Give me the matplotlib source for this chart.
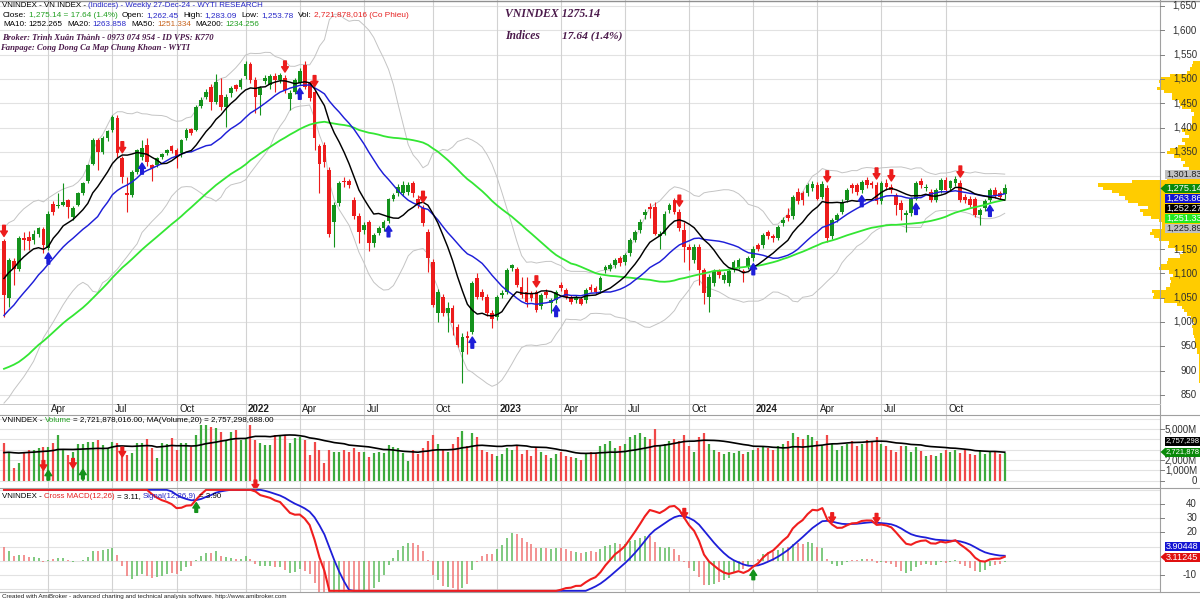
"""Weekly VN-Index chart, AmiBroker style (WYTI Research layout)."""

import matplotlib

matplotlib.use("Agg")
import matplotlib.pyplot as plt
import numpy as np
import pandas as pd
from matplotlib.lines import Line2D
from matplotlib.patches import Polygon, Rectangle

W, H = 1200, 601

# ---- weekly bars, 29-Jan-21 .. 27-Dec-24 ----
OPEN = [
    1166, 1049, 1126, 1110, 1172, 1175, 1168, 1182, 1192, 1152,
    1242, 1238, 1240, 1251, 1216, 1241, 1265, 1289, 1326, 1374,
    1350, 1378, 1395, 1420, 1337, 1266, 1261, 1309, 1340, 1364,
    1323, 1323, 1340, 1347, 1361, 1354, 1347, 1378, 1396, 1395,
    1445, 1463, 1484, 1453, 1467, 1443, 1470, 1487, 1484, 1506,
    1530, 1498, 1467, 1496, 1488, 1506, 1498, 1501, 1458, 1474,
    1491, 1529, 1491, 1474, 1361, 1364, 1313, 1206, 1244, 1291,
    1289, 1251, 1219, 1189, 1206, 1162, 1184, 1193, 1208, 1252,
    1265, 1265, 1268, 1285, 1254, 1234, 1186, 1124, 1018, 1052,
    1018, 1028, 990, 939, 972, 980, 1090, 1062, 1052, 1018,
    1011, 1056, 1062, 1112, 1110, 1073, 1062, 1059, 1062, 1032,
    1062, 1040, 1045, 1076, 1066, 1052, 1045, 1047, 1045, 1073,
    1069, 1066, 1106, 1110, 1117, 1131, 1124, 1141, 1169, 1189,
    1220, 1236, 1237, 1176, 1182, 1230, 1251, 1227, 1189, 1155,
    1128, 1155, 1107, 1052, 1080, 1104, 1086, 1080, 1107, 1114,
    1104, 1114, 1131, 1158, 1158, 1186, 1176, 1172, 1203, 1220,
    1217, 1268, 1265, 1265, 1276, 1282, 1258, 1275, 1176, 1210,
    1227, 1251, 1282, 1282, 1272, 1292, 1285, 1282, 1248, 1285,
    1278, 1261, 1244, 1220, 1224, 1254, 1289, 1275, 1268, 1251,
    1272, 1292, 1275, 1285, 1285, 1258, 1254, 1254, 1220, 1234,
    1251, 1272, 1265, 1262.45,
]
HIGH = [
    1170, 1132, 1132, 1176, 1186, 1188, 1190, 1196, 1196, 1228,
    1248, 1265, 1285, 1254, 1238, 1268, 1288, 1326, 1378, 1378,
    1382, 1395, 1425, 1425, 1342, 1299, 1312, 1356, 1374, 1378,
    1326, 1340, 1348, 1356, 1364, 1357, 1377, 1398, 1400, 1447,
    1462, 1480, 1490, 1511, 1501, 1468, 1486, 1490, 1502, 1536,
    1535, 1503, 1485, 1508, 1510, 1512, 1512, 1508, 1478, 1502,
    1522, 1537, 1496, 1478, 1366, 1370, 1318, 1246, 1290, 1299,
    1294, 1258, 1224, 1205, 1210, 1184, 1198, 1210, 1256, 1266,
    1284, 1290, 1287, 1289, 1262, 1240, 1192, 1130, 1068, 1058,
    1042, 1034, 995, 978, 982, 1085, 1100, 1068, 1058, 1024,
    1056, 1066, 1112, 1120, 1114, 1093, 1093, 1064, 1066, 1060,
    1068, 1050, 1066, 1082, 1070, 1056, 1056, 1051, 1070, 1078,
    1074, 1094, 1118, 1122, 1132, 1136, 1142, 1173, 1190, 1211,
    1232, 1245, 1246, 1188, 1228, 1245, 1256, 1232, 1206, 1160,
    1160, 1160, 1112, 1098, 1108, 1110, 1102, 1108, 1128, 1132,
    1110, 1135, 1156, 1163, 1183, 1190, 1180, 1200, 1215, 1234,
    1262, 1275, 1270, 1286, 1290, 1288, 1290, 1282, 1214, 1225,
    1252, 1276, 1285, 1286, 1293, 1298, 1290, 1288, 1290, 1295,
    1284, 1266, 1250, 1230, 1258, 1290, 1296, 1284, 1274, 1276,
    1297, 1298, 1293, 1300, 1292, 1264, 1260, 1258, 1235, 1252,
    1276, 1278, 1270, 1283.09,
]
LOW = [
    1011, 1031, 1076, 1105, 1148, 1148, 1160, 1175, 1141, 1148,
    1220, 1234, 1238, 1213, 1210, 1238, 1262, 1286, 1322, 1312,
    1345, 1372, 1390, 1340, 1285, 1227, 1258, 1305, 1333, 1320,
    1289, 1318, 1335, 1343, 1348, 1316, 1340, 1374, 1384, 1392,
    1440, 1458, 1436, 1448, 1436, 1402, 1462, 1475, 1480, 1500,
    1492, 1429, 1426, 1490, 1480, 1474, 1492, 1470, 1437, 1468,
    1487, 1480, 1455, 1354, 1265, 1318, 1175, 1155, 1238, 1278,
    1276, 1212, 1162, 1182, 1145, 1155, 1178, 1188, 1204, 1248,
    1260, 1260, 1262, 1258, 1235, 1198, 1103, 1030, 1001, 1012,
    980, 973, 948, 874, 935, 975, 1048, 1045, 1012, 987,
    1005, 1050, 1058, 1105, 1072, 1050, 1031, 1044, 1020, 1026,
    1050, 1018, 1040, 1064, 1047, 1038, 1040, 1034, 1040, 1062,
    1058, 1060, 1100, 1104, 1112, 1116, 1118, 1136, 1164, 1184,
    1212, 1213, 1178, 1151, 1178, 1224, 1222, 1188, 1124, 1107,
    1122, 1076, 1038, 1021, 1075, 1090, 1080, 1074, 1102, 1108,
    1083, 1108, 1126, 1146, 1153, 1170, 1165, 1168, 1198, 1208,
    1212, 1242, 1240, 1260, 1270, 1250, 1252, 1165, 1170, 1205,
    1222, 1246, 1265, 1262, 1266, 1276, 1276, 1242, 1243, 1272,
    1266, 1220, 1210, 1186, 1218, 1250, 1276, 1270, 1246, 1246,
    1266, 1266, 1270, 1280, 1246, 1245, 1236, 1215, 1200, 1228,
    1246, 1256, 1252, 1253.78,
]
CLOSE = [
    1055, 1127, 1108, 1172, 1169, 1166, 1182, 1193, 1158, 1223,
    1226, 1241, 1247, 1237, 1234, 1265, 1285, 1323, 1374, 1350,
    1378, 1392, 1422, 1347, 1299, 1262, 1309, 1354, 1357, 1330,
    1316, 1337, 1345, 1354, 1351, 1337, 1374, 1395, 1389, 1443,
    1457, 1474, 1453, 1494, 1443, 1463, 1481, 1480, 1498, 1530,
    1498, 1463, 1481, 1501, 1505, 1498, 1508, 1477, 1472, 1498,
    1517, 1484, 1460, 1378, 1326, 1330, 1182, 1241, 1285, 1287,
    1282, 1217, 1186, 1200, 1162, 1179, 1193, 1206, 1252, 1261,
    1278, 1282, 1282, 1265, 1241, 1203, 1131, 1035, 1062, 1018,
    1028, 997, 953, 970, 968, 1080, 1052, 1052, 1018, 1007,
    1052, 1059, 1107, 1117, 1076, 1056, 1042, 1049, 1025, 1055,
    1055, 1045, 1062, 1069, 1052, 1042, 1052, 1038, 1066, 1066,
    1062, 1090, 1114, 1117, 1127, 1121, 1138, 1169, 1186, 1206,
    1227, 1233, 1182, 1182, 1223, 1241, 1227, 1193, 1155, 1148,
    1155, 1107, 1059, 1093, 1104, 1097, 1097, 1104, 1124, 1127,
    1100, 1131, 1151, 1151, 1179, 1176, 1172, 1196, 1210, 1213,
    1258, 1248, 1250, 1282, 1284, 1254, 1283, 1172, 1210, 1220,
    1247, 1271, 1275, 1268, 1288, 1282, 1282, 1248, 1285, 1278,
    1271, 1241, 1230, 1224, 1254, 1285, 1282, 1278, 1251, 1271,
    1292, 1272, 1289, 1295, 1251, 1251, 1241, 1220, 1230, 1248,
    1271, 1262, 1258, 1275.14,
]
# weekly volume, millions of shares
VOLUME = [
    3680, 2800, 1220, 1700, 2700, 2970, 2970, 3130, 3290, 3290,
    3620, 4420, 2970, 2480, 2800, 3520, 3520, 3780, 3780, 3940,
    3460, 3130, 3780, 3620, 2800, 2480, 2640, 3620, 3620, 4010,
    3130, 2150, 3620, 3520, 4100, 2970, 3620, 3620, 3290, 4420,
    5390, 5390, 5230, 5070, 4740, 3940, 4740, 4900, 3940, 4100,
    5390, 3940, 3620, 3460, 3460, 4420, 4420, 4420, 3620, 4100,
    4260, 3940, 2480, 3780, 2970, 1700, 2970, 2800, 2800, 2970,
    2800, 3130, 2800, 2800, 2320, 2640, 2800, 2640, 3460, 3290,
    3130, 2640, 1860, 2970, 2600, 3200, 3800, 4400, 3600, 3000,
    2800, 3600, 4200, 4800, 3400, 4600, 4200, 3000, 2800, 2600,
    2400, 2600, 3200, 3000, 3400, 2600, 3000, 2400, 3200, 2800,
    2500, 2200, 2600, 2800, 2400, 2300, 2200, 2000, 2600, 2800,
    2700, 3400, 3600, 3800, 3200, 3400, 3600, 4200, 4400, 4600,
    4200, 4000, 5000, 3400, 3600, 3800, 4000, 3800, 4400, 3400,
    2800, 4200, 4600, 3600, 3000, 2800, 2600, 2800, 2700, 2900,
    2600, 2800, 3000, 3200, 3300, 3200, 3000, 3400, 3600, 3800,
    4600, 4200, 4000, 4400, 4200, 3800, 3400, 4400, 3600, 3000,
    3400, 3600, 3800, 3400, 3600, 3900, 3700, 4200, 3600, 3400,
    3000, 2800, 3400, 3400, 2800, 3300, 2900, 2400, 2500, 2400,
    2700, 3000, 2800, 3000, 2700, 3000, 2600, 2500, 3000, 2600,
    2800, 2800, 2600, 2721.878,
]
# 2020 weekly closes / volumes before the first bar (only feed the indicators)
PRE_CLOSE = [
    933, 938, 927, 881, 893, 794, 751, 691, 720, 762, 777, 759, 769,
    793, 825, 858, 864, 880, 863, 869, 853, 857, 863, 842, 835, 785,
    830, 848, 869, 880, 883, 893, 907, 905, 909, 928, 935, 942, 925,
    948, 981, 996, 1003, 1017, 1046, 1067, 1079, 1104, 1168, 1190, 1166,
]
PRE_VOLUME = [
    2100, 2200, 2300, 2000, 2400, 2500, 2300, 2600, 2700, 2500,
    2400, 2800, 2600, 2900, 3000, 3200, 3400, 3500, 3300,
]

QUARTER_BARS = [9, 22, 35, 49, 60, 73, 87, 100, 113, 126, 139, 152, 165, 178, 191]
QUARTER_LABELS = ["Apr", "Jul", "Oct", "2022", "Apr", "Jul", "Oct", "2023",
                  "Apr", "Jul", "Oct", "2024", "Apr", "Jul", "Oct"]

SELL_BARS = [0, 24, 57, 63, 85, 108, 137, 167, 177, 180, 194]
BUY_BARS = [9, 28, 60, 78, 95, 112, 152, 174, 185, 200]
VOL_SELL = [(8, 1000), (14, 1200), (24, 2300)]
VOL_BUY = [(9, 1000), (16, 1100)]
MACD_SELL = [(51, 50), (138, 30), (168, 27), (177, 26.5)]
MACD_BUY = [(39, 41), (152, -6.5)]

SANS = "Liberation Sans"
SERIF = "Liberation Serif"
GREEN = "#14921C"
RED = "#EC1C1C"
BLUE = "#1E1ED8"
LIME = "#33E633"
GRID = "#E2E2E2"
VGRID = "#D2D2D2"
YELLOW = "#FFCC00"
PURPLE = "#4B1A4B"

O, Hh, L, C = (np.array(a, dtype=float) for a in (OPEN, HIGH, LOW, CLOSE))
V = np.array(VOLUME, dtype=float)
n = len(C)
idx = np.arange(n)
up = C >= O
bar_colors = np.where(up, GREEN, RED)

closes = pd.Series(np.r_[PRE_CLOSE, C])
npre = len(PRE_CLOSE)
ma10 = closes.rolling(10).mean().to_numpy()[npre:]
ma20 = closes.rolling(20).mean().to_numpy()[npre:]
ma50 = closes.rolling(50).mean().to_numpy()[npre:]
sd20 = closes.rolling(20).std(ddof=0).to_numpy()[npre:]
bb_up, bb_dn = ma20 + 2 * sd20, ma20 - 2 * sd20
ema12 = closes.ewm(span=12, adjust=False).mean()
ema26 = closes.ewm(span=26, adjust=False).mean()
macd_all = ema12 - ema26
signal_all = macd_all.ewm(span=9, adjust=False).mean()
macd = macd_all.to_numpy()[npre:]
signal = signal_all.to_numpy()[npre:]
hist = macd - signal
vols = pd.Series(np.r_[PRE_VOLUME, V])
vol_ma = vols.rolling(20).mean().to_numpy()[len(PRE_VOLUME):]

XMIN, XMAX = -0.81, 234.5

fig = plt.figure(figsize=(W / 100, H / 100), dpi=100)
fig.patch.set_facecolor("white")


def px_axes(x0, y0, x1, y1):
    ax = fig.add_axes([x0 / W, 1 - y1 / H, (x1 - x0) / W, (y1 - y0) / H])
    ax.set_axis_off()
    ax.set_xlim(XMIN, XMAX)
    return ax


def img_y(ax, v):
    return H - ax.transData.transform((0, v))[1]


def img_x(ax, i):
    return ax.transData.transform((i, 0))[0]


def fig_line(x0, y0, x1, y1, color="#A8A8A8", lw=0.8):
    fig.add_artist(Line2D([x0 / W, x1 / W], [1 - y0 / H, 1 - y1 / H],
                          transform=fig.transFigure, color=color, lw=lw, zorder=5))


def sig_arrow(ax, x, y, down, color, length=8):
    ax.annotate("", xy=(x, y), xytext=(0, length if down else -length),
                textcoords="offset points", xycoords="data", annotation_clip=False,
                arrowprops=dict(arrowstyle="simple,head_length=0.55,head_width=0.7,tail_width=0.28",
                                color=color, shrinkA=0, shrinkB=0, mutation_scale=7),
                zorder=6)


# ---- price pane ----
ax = px_axes(0, 0, 1160, 415)
ax.set_ylim(808.7, 1662.3)
for lvl in range(850, 1651, 50):
    ax.axhline(lvl, color=GRID, lw=0.8, zorder=0)
for b in QUARTER_BARS:
    ax.axvline(b, color=VGRID, lw=0.8, zorder=0)
ax.plot(idx, bb_up, color="#C4C4C4", lw=0.7, zorder=1)
ax.plot(idx, bb_dn, color="#C4C4C4", lw=0.7, zorder=1)
ax.vlines(idx, L, Hh, colors=bar_colors, lw=0.8, zorder=2)
ax.bar(idx, np.maximum(np.abs(C - O), 1.8), bottom=np.minimum(O, C), width=0.76,
       color=bar_colors, linewidth=0, zorder=2)
ax.plot(idx, ma50, color=LIME, lw=1.3, zorder=3)
ax.plot(idx, ma20, color=BLUE, lw=1.05, zorder=3)
ax.plot(idx, ma10, color="black", lw=1.05, zorder=3)
for b in SELL_BARS:
    sig_arrow(ax, b, Hh[b] + 6, True, RED)
for b in BUY_BARS:
    sig_arrow(ax, b, L[b] - 6, False, BLUE)

# ---- volume pane ----
axv = px_axes(0, 415, 1160, 488)
axv.set_ylim(-718, 6369)
for lvl in range(0, 6001, 1000):
    axv.axhline(lvl, color=GRID, lw=0.8, zorder=0)
for b in QUARTER_BARS:
    axv.axvline(b, color=VGRID, lw=0.8, zorder=0)
vol_colors = np.where(up, "#3CAA3C", "#F04848")
axv.vlines(idx, 0, V, colors=vol_colors, lw=1.6, zorder=2)
axv.plot(idx, vol_ma, color="black", lw=1.2, zorder=3)
for b, v in VOL_SELL:
    sig_arrow(axv, b, v, True, RED, length=7)
for b, v in VOL_BUY:
    sig_arrow(axv, b, v, False, GREEN, length=7)

# ---- MACD pane ----
axm = px_axes(0, 488, 1160, 592)
axm.set_ylim(-22.0, 51.3)
for lvl in range(-20, 51, 10):
    axm.axhline(lvl, color=GRID, lw=0.8, zorder=0)
for b in QUARTER_BARS:
    axm.axvline(b, color=VGRID, lw=0.8, zorder=0)
hist_colors = np.where(up, "#5DBB5D", "#F07474")
axm.vlines(idx, 0, hist, colors=hist_colors, lw=1.1, zorder=2)
axm.plot(idx, np.clip(signal, -21.2, 50), color=BLUE, lw=1.3, zorder=3)
axm.plot(idx, np.clip(macd, -21.2, 50), color="#F01E1E", lw=1.5, zorder=4)
for b, v in MACD_SELL:
    sig_arrow(axm, b, v, True, RED, length=7)
for b, v in MACD_BUY:
    sig_arrow(axm, b, v, False, GREEN, length=7)

# ---- price volume distribution on the right ----
axp = fig.add_axes([1080 / W, 1 - 415 / H, 120 / W, 415 / H])
axp.set_axis_off()
axp.set_ylim(808.7, 1662.3)
axp.set_xlim(120, 0)
lo, hi = L.min(), Hh.max()
edges = np.linspace(lo, hi, 101)
overlap = np.clip(np.minimum(Hh[:, None], edges[1:]) - np.maximum(L[:, None], edges[:-1]), 0, None)
profile = (overlap / (Hh - L)[:, None] * V[:, None]).sum(axis=0)
axp.barh((edges[:-1] + edges[1:]) / 2, profile / profile.max() * 102,
         height=edges[1] - edges[0], left=0, color=YELLOW, linewidth=0)

# ---- frame lines ----
fig_line(0, 0.5, 1200, 0.5, "#909090", 1.0)
fig_line(1160, 0, 1160, 592, "#A0A0A0", 0.8)
fig_line(0, 404, 1160, 404, "#C8C8C8", 0.7)
fig_line(0, 415, 1200, 415, "#A0A0A0", 0.8)
fig_line(0, 488, 1200, 488, "#A0A0A0", 0.8)
fig_line(0, 592, 1200, 592, "#A0A0A0", 0.8)

renderer = fig.canvas.get_renderer()


def text_width(s, **kw):
    t = fig.text(0, 0, s, **kw)
    w = t.get_window_extent(renderer).width
    t.remove()
    return w


def rich(x, y, parts, size, family=SANS, weight="normal", style="normal", width=None):
    """Draw a run of coloured pieces; spaces are turned into explicit gaps."""
    def place(sz):
        kw = dict(fontsize=sz, family=family, weight=weight, style=style)
        space = text_width("x x", **kw) - text_width("xx", **kw)
        xs, arts = x, []
        for s, col in parts:
            lead = len(s) - len(s.lstrip(" "))
            trail = len(s) - len(s.rstrip(" "))
            xs += lead * space
            t = fig.text(xs / W, 1 - y / H, s.strip(" "), color=col, ha="left",
                         va="center", zorder=8, **kw)
            xs = t.get_window_extent(renderer).x1 + trail * space
            arts.append(t)
        return arts, xs

    arts, end = place(size)
    if width is not None:
        for a in arts:
            a.remove()
        arts, end = place(size * width / (end - x))
    return arts


def axis_label(y, s):
    fig.text(1197 / W, 1 - y / H, s, fontsize=7, family=SANS, color="#303030",
             ha="right", va="center", zorder=7)
    fig_line(1160, y, 1164, y, "#808080", 0.7)


# labels hidden behind the value boxes in the reference are left out
for lvl in range(850, 1651, 50):
    if lvl in (1200, 1250, 1300):
        continue
    axis_label(img_y(ax, lvl), f"{lvl:,}")
for lvl, s in [(5000, "5,000M"), (2000, "2,000M"), (1000, "1,000M"), (0, "0")]:
    axis_label(img_y(axv, lvl), s)
for lvl in (-10, 20, 30, 40):
    axis_label(img_y(axm, lvl), str(lvl))


def value_box(y, s, bg, fg, pointer=False, size=6.6):
    fig.add_artist(Rectangle((1165 / W, 1 - (y + 4.5) / H), 35 / W, 9 / H,
                             transform=fig.transFigure, facecolor=bg, edgecolor="none", zorder=9))
    if pointer:
        fig.add_artist(Polygon([[1160.5 / W, 1 - y / H], [1165.5 / W, 1 - (y - 4.5) / H],
                                [1165.5 / W, 1 - (y + 4.5) / H]], closed=True,
                               transform=fig.transFigure, facecolor=bg, edgecolor="none", zorder=9))
    fig.text(1166 / W, 1 - y / H, s, fontsize=size, family=SANS, color=fg,
             ha="left", va="center", zorder=10)


value_box(174.5, "1,301.83", "#C0C0C0", "#202020")
value_box(188.5, "1,275.14", "#0A8A0A", "white", True)
value_box(198.5, "1,263.86", "#1414D2", "white")
value_box(208.3, "1,252.27", "#000000", "white")
value_box(218.5, "1,251.33", "#22E822", "white")
value_box(228.0, "1,225.89", "#C0C0C0", "#202020")
value_box(441.0, "2,757,298", "#000000", "white", size=5.5)
value_box(452.0, "2,721,878", "#0A8A0A", "white", True, size=5.5)
value_box(546.7, "3.90448", "#1414D2", "white")
value_box(557.0, "3.11245", "#E01010", "white", True)

# date labels
for b, lab in zip(QUARTER_BARS, QUARTER_LABELS):
    fig.text((img_x(ax, b) + 2.5) / W, 1 - 409 / H, lab, fontsize=7, family=SANS,
             color="#202020", weight="bold" if lab.isdigit() else "normal",
             ha="left", va="center", zorder=7)

# ---- header texts ----
HB = "#2828C8"
rich(2, 5.7, [("VNINDEX - VN INDEX -", "black"),
              (" (Indices) - Weekly 27-Dec-24 - WYTI RESEARCH", HB)], 6.8, width=260)
rich(3, 15.3, [("Close:", "black"), (" 1,275.14 = 17.64 (1.4%)", "#22A022"),
               ("  Open:", "black"), (" 1,262.45", HB), ("  High:", "black"), (" 1,283.09", HB),
               ("  Low:", "black"), (" 1,253.78", HB), ("  Vol:", "black"),
               (" 2,721,878,016 (Co Phieu)", "#E62222")], 6.8, width=410)
rich(3, 25.0, [("MA10:", "black"), (" 1252.265", "black"), ("  MA20:", "black"),
               (" 1263.858", HB), ("  MA50:", "black"), (" 1251.334", "#C8641E"),
               ("  MA200:", "black"), (" 1234.256", "#22A022")], 6.8, width=257)
rich(2, 37.5, [("Broker: Trình Xuân Thành - 0973 074 954 - ID VPS: K770", PURPLE)], 7,
     family=SERIF, weight="bold", style="italic", width=213)
rich(0, 47.8, [("Fanpage: Cong Dong Ca Map Chung Khoan - WYTI", PURPLE)], 7,
     family=SERIF, weight="bold", style="italic", width=190)
rich(505, 14, [("VNINDEX 1275.14", PURPLE)], 10, family=SERIF, weight="bold",
     style="italic", width=95)
rich(505, 36, [("Indices", PURPLE)], 9, family=SERIF, weight="bold", style="italic", width=35)
rich(562, 36, [("17.64 (1.4%)", PURPLE)], 9, family=SERIF, weight="bold", style="italic",
     width=60)

rich(2, 420.7, [("VNINDEX -", "black"), (" Volume", "#22A022"),
                (" = 2,721,878,016.00, MA(Volume,20) = 2,757,298,688.00", "black")],
     6.8, width=272)
rich(2, 496.7, [("VNINDEX -", "black"), (" Cross MACD(12,26)", "#E62222"),
                (" = 3.11,", "black"), (" Signal(12,26,9)", HB), (" = 3.90", "black")],
     6.8, width=222)
rich(2, 596.7, [("Created with AmiBroker - advanced charting and technical analysis software. "
                 "http://www.amibroker.com", "#202020")], 5.5, width=288)

fig.savefig("out.png", dpi=100, facecolor="white")
